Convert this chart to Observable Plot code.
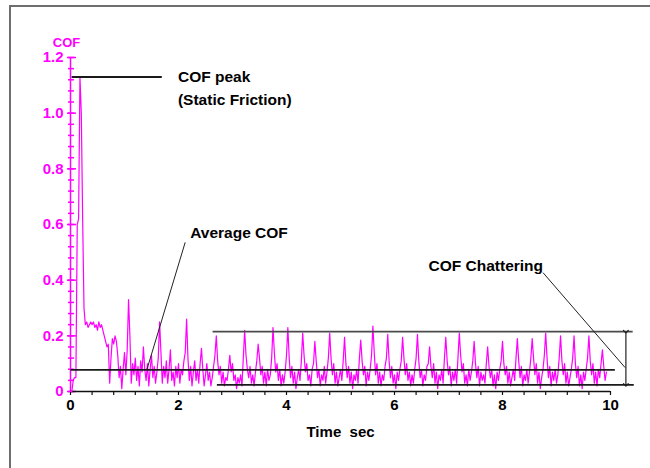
<!DOCTYPE html>
<html>
<head>
<meta charset="utf-8">
<script src="https://cdn.jsdelivr.net/npm/d3@7"></script>
<script src="https://cdn.jsdelivr.net/npm/@observablehq/plot@0.6"></script>
<style>
  html, body { margin: 0; padding: 0; background: #fff; }
  #wrap { position: relative; width: 650px; height: 468px; overflow: hidden; }
  #frame { position: absolute; left: 9px; top: 5px; width: 700px; height: 500px;
           border-top: 2px solid #6e6e6e; border-left: 2px solid #6e6e6e; pointer-events: none; }
</style>
</head>
<body>
<div id="wrap"><div id="frame"></div></div>
<script>
// ---- data ----
const DT = 0.025; // seconds between samples
const cof = [
0.00,0.00,0.04,0.05,0.05,0.60,0.62,1.13,1.00,0.62,
0.30,0.24,0.25,0.23,0.24,0.25,0.24,0.25,0.23,0.24,
0.22,0.25,0.23,0.24,0.22,0.20,0.18,0.16,0.17,0.03,
0.12,0.19,0.17,0.20,0.18,0.13,0.05,0.09,0.01,0.08,
0.14,0.06,0.15,0.33,0.20,0.03,0.10,0.06,0.12,0.04,
0.09,0.02,0.11,0.07,0.16,0.08,0.04,0.10,0.02,0.08,
0.13,0.05,0.09,0.03,0.07,0.12,0.25,0.14,0.03,0.09,
0.05,0.11,0.03,0.08,0.15,0.04,0.07,0.02,0.09,0.05,
0.10,0.03,0.08,0.06,0.11,0.14,0.26,0.12,0.04,0.09,
0.02,0.07,0.11,0.04,0.08,0.03,0.10,0.155,0.08,0.02,
0.06,0.10,0.04,0.07,0.02,0.05,0.09,0.13,0.20,0.11,
0.06,0.09,0.03,0.07,0.02,0.05,0.04,0.08,0.13,0.07,
0.10,0.04,0.06,0.01,0.05,0.03,0.06,0.02,0.12,0.22,
0.13,0.08,0.05,0.09,0.03,0.06,0.02,0.07,0.11,0.17,
0.12,0.06,0.09,0.03,0.07,0.02,0.08,0.04,0.06,0.12,
0.23,0.14,0.07,0.10,0.04,0.08,0.02,0.06,0.03,0.07,
0.13,0.23,0.12,0.05,0.09,0.03,0.07,0.01,0.05,0.08,
0.04,0.11,0.21,0.13,0.07,0.10,0.04,0.06,0.02,0.08,
0.10,0.18,0.11,0.05,0.08,0.02,0.06,0.04,0.09,0.03,
0.07,0.12,0.21,0.12,0.06,0.10,0.03,0.07,0.02,0.05,
0.08,0.04,0.11,0.195,0.10,0.05,0.09,0.03,0.07,0.01,
0.06,0.04,0.08,0.03,0.12,0.185,0.11,0.06,0.09,0.02,
0.07,0.04,0.08,0.13,0.235,0.14,0.06,0.10,0.03,0.07,
0.02,0.06,0.04,0.09,0.12,0.205,0.11,0.05,0.09,0.03,
0.06,0.01,0.07,0.04,0.08,0.11,0.195,0.12,0.06,0.10,
0.04,0.07,0.02,0.06,0.03,0.08,0.12,0.205,0.11,0.05,
0.08,0.02,0.06,0.04,0.09,0.10,0.16,0.09,0.05,0.10,
0.03,0.07,0.01,0.06,0.04,0.08,0.03,0.12,0.195,0.11,
0.06,0.09,0.02,0.07,0.04,0.08,0.03,0.12,0.21,0.13,
0.07,0.10,0.03,0.06,0.02,0.08,0.04,0.07,0.11,0.18,
0.10,0.05,0.09,0.02,0.07,0.04,0.06,0.03,0.10,0.16,
0.09,0.05,0.08,0.02,0.06,0.01,0.07,0.04,0.08,0.11,
0.18,0.10,0.06,0.09,0.03,0.07,0.02,0.05,0.08,0.04,
0.12,0.19,0.11,0.05,0.09,0.02,0.06,0.04,0.08,0.03,
0.07,0.12,0.19,0.12,0.06,0.10,0.03,0.07,0.01,0.05,
0.08,0.13,0.21,0.12,0.05,0.09,0.02,0.07,0.04,0.08,
0.03,0.06,0.12,0.20,0.11,0.06,0.10,0.03,0.07,0.02,
0.05,0.08,0.12,0.20,0.10,0.05,0.09,0.02,0.06,0.01,
0.07,0.04,0.08,0.12,0.20,0.11,0.06,0.10,0.03,0.07,
0.02,0.08,0.05,0.10,0.15,0.09,0.04,0.07
];

const xMajorTicks = [0, 2, 4, 6, 8, 10];
const xMinorTicks = [0,0.4,0.8,1.2,1.6,2,2.4,2.8,3.2,3.6,4,4.4,4.8,5.2,5.6,6,6.4,6.8,7.2,7.6,8,8.4,8.8,9.2,9.6,10];
const yMajorTicks = [0, 0.2, 0.4, 0.6, 0.8, 1.0, 1.2];
const yTickLabels = ["0", "0.2", "0.4", "0.6", "0.8", "1.0", "1.2"];
const yMinorTicks = [0,0.04,0.08,0.12,0.16,0.2,0.24,0.28,0.32,0.36,0.4,0.44,0.48,0.52,0.56,0.6,0.64,0.68,0.72,0.76,0.8,0.84,0.88,0.92,0.96,1.0,1.04,1.08,1.12,1.16,1.2];

// reference levels: name, level, start time, end time
const levelNames = ["peak", "average", "chatterTop", "chatterBottom"];
const levelValues = [1.13, 0.078, 0.215, 0.024];
const levelStart = [0.03, 0.01, 2.64, 2.72];
const levelEnd = [1.70, 10.09, 10.42, 10.44];

// leader lines: [t1, v1, t2, v2]
const leaderAvg = [1.415, 0.079, 2.124, 0.536];
const leaderChatter = [8.75, 0.427, 10.27, 0.086];
const chatterArrow = [10.285, 0.215, 10.285, 0.024];

// annotation labels
const noteTexts = ["COF peak", "(Static Friction)", "Average COF", "COF Chattering"];
const noteT = [1.99, 1.99, 2.217, 6.63];
const noteV = [1.131, 1.048, 0.569, 0.450];

const MAGENTA = "#ff00ff";
const FONT = "'Liberation Sans', Arial, Helvetica, sans-serif";

const levels = levelNames.map((n, i) => ({n, v: levelValues[i], t1: levelStart[i], t2: levelEnd[i]}));
const notes = noteTexts.map((s, i) => ({s, t: noteT[i], v: noteV[i]}));
const yLab = yMajorTicks.map((v, i) => ({v, s: yTickLabels[i]}));
const toLink = (a) => ({x1: a[0], y1: a[1], x2: a[2], y2: a[3]});

const chart = Plot.plot({
  width: 650,
  height: 468,
  marginLeft: 70,
  marginRight: 40,
  marginTop: 57,
  marginBottom: 77,
  x: {domain: [0, 10]},
  y: {domain: [0, 1.2]},
  style: {fontFamily: FONT, background: "transparent", overflow: "visible"},
  marks: [
    // y axis (magenta)
    Plot.ruleX([0], {y1: 0, y2: 1.2, stroke: MAGENTA, strokeWidth: 1.5}),
    Plot.axisY(yMinorTicks, {anchor: "left", tickSize: 6, dx: 4, tickFormat: () => "", stroke: MAGENTA, strokeWidth: 1.5, label: null}),
    Plot.axisY(yMajorTicks, {anchor: "left", tickSize: 9, dx: 6, tickFormat: () => "", stroke: MAGENTA, strokeWidth: 1.5, label: null}),
    Plot.text(yLab, {x: 0, y: "v", text: "s", dx: -7, textAnchor: "end", fill: MAGENTA, fontSize: 15, fontWeight: "bold"}),
    Plot.text(["COF"], {x: 0, y: 1.2, text: d => d, dx: -4, dy: -15, fill: MAGENTA, fontSize: 13, fontWeight: "bold"}),
    // x axis
    Plot.ruleY([0], {x1: 0, x2: 10, stroke: "#111", strokeWidth: 1.5}),
    Plot.axisX(xMinorTicks, {anchor: "bottom", tickSize: 4, tickFormat: () => "", stroke: "#111", strokeWidth: 1.2, label: null}),
    Plot.text(xMajorTicks, {x: d => d, y: 0, text: d => String(d), dy: 14, fill: "#000", fontSize: 15, fontWeight: "bold"}),
    Plot.text(["Time  sec"], {x: 4.37, y: 0, text: d => d, dy: 41, textAnchor: "start", fill: "#000", fontSize: 15, fontWeight: "bold"}),
    // signal
    Plot.line(cof, {x: (d, i) => i * DT, y: d => d, stroke: MAGENTA, strokeWidth: 1.2}),
    // reference levels
    Plot.ruleY(levels, {y: "v", x1: "t1", x2: "t2", stroke: d => d.n === "chatterTop" ? "#4a4a4a" : "#1a1a1a", strokeWidth: 1.8}),
    // leaders
    Plot.link([toLink(leaderAvg), toLink(leaderChatter)], {x1: "x1", y1: "y1", x2: "x2", y2: "y2", stroke: "#222", strokeWidth: 1}),
    Plot.link([toLink(chatterArrow)], {x1: "x1", y1: "y1", x2: "x2", y2: "y2", stroke: "#222", strokeWidth: 1.2, markerStart: "arrow", markerEnd: "arrow"}),
    // notes
    Plot.text(notes, {x: "t", y: "v", text: "s", textAnchor: "start", fill: "#000", fontSize: 15.5, fontWeight: "bold"})
  ]
});
document.getElementById("wrap").prepend(chart);
</script>
</body>
</html>
